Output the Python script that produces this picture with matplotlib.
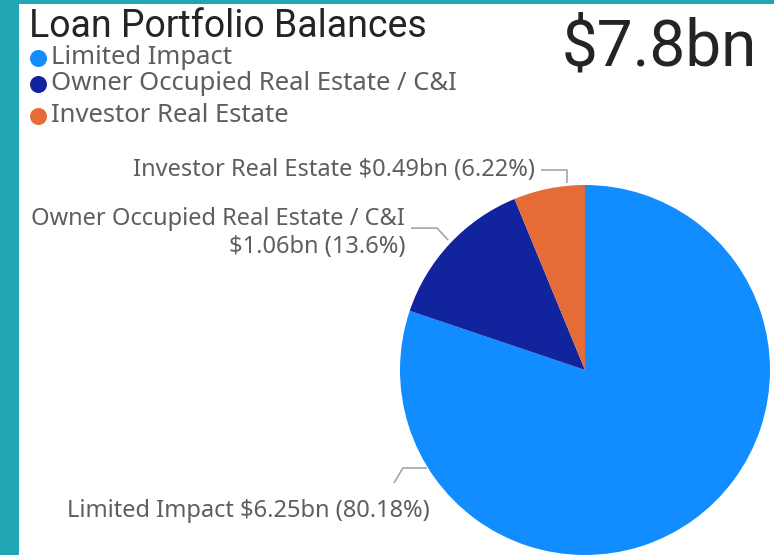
import numpy as np
import matplotlib.pyplot as plt
from matplotlib.patches import Rectangle

# data
categories = ['Limited Impact', 'Owner Occupied Real Estate / C&I', 'Investor Real Estate']
balances_bn = [6.25, 1.06, 0.49]
shares_pct = [80.18, 13.60, 6.22]
colors = ['#118DFF', '#12239E', '#E66C37']
title = 'Loan Portfolio Balances'

W, H = 774, 555
fig = plt.figure(figsize=(W / 100, H / 100), dpi=100)
fig.patch.set_facecolor('white')

# pie geometry in pixels
cx, cy, R = 585, 370, 185
pie_ax = fig.add_axes([(cx - R) / W, (H - cy - R) / H, 2 * R / W, 2 * R / H])
pie_ax.pie(shares_pct, colors=colors, startangle=90, counterclock=False,
           radius=1, wedgeprops=dict(linewidth=0))
pie_ax.set_xlim(-1, 1)
pie_ax.set_ylim(-1, 1)
pie_ax.axis('off')

# overlay in pixel coordinates
ov = fig.add_axes([0, 0, 1, 1])
ov.set_xlim(0, W)
ov.set_ylim(H, 0)
ov.axis('off')
ov.patch.set_visible(False)

teal = '#21A6B5'
ov.add_patch(Rectangle((0, 0), 19, H, color=teal, lw=0))
ov.add_patch(Rectangle((0, 0), W, 3.5, color=teal, lw=0))

label_font = 'Noto Sans'
grey = '#605E5C'

ov.text(29, 37, title, fontsize=27, family='Roboto', color='#252423', va='baseline')
total = sum(balances_bn)
ov.text(757, 66, f'${total:.1f}bn', fontsize=46, family='Roboto', color='#252423',
        va='baseline', ha='right')

# legend
leg_y = [58, 84, 116]
for name, col, y in zip(categories, colors, leg_y):
    ov.scatter([38], [y], s=150, color=col, lw=0)
    ov.text(51, y, name, fontsize=18.5, family=label_font, color=grey, va='center')

# data labels with leader lines
anchor_deg = [211.8, 136.5, 95.5]
anchor_r = [1.005, 1.02, 1.015]
leader = [[(0, 0), (-24, 0), (-33, 15)],
          [(0, 0), (-11, -12), (-37, -12)],
          [(0, 0), (0, -13), (-26, -13)]]
text_off = [(3, 43), (-43, -7), (-32, -13)]
for i, name in enumerate(categories):
    t = np.deg2rad(anchor_deg[i])
    ax0 = cx + R * anchor_r[i] * np.cos(t)
    ay0 = cy - R * anchor_r[i] * np.sin(t)
    xs = [ax0 + dx for dx, dy in leader[i]]
    ys = [ay0 + dy for dx, dy in leader[i]]
    ov.plot(xs, ys, color='#A6A6A6', lw=1.2, solid_capstyle='butt')
    value = f'${balances_bn[i]:.2f}bn ({shares_pct[i]:g}%)'
    sep = '\n' if i == 1 else ' '
    ov.text(ax0 + text_off[i][0], ay0 + text_off[i][1], name + sep + value,
            fontsize=17, family=label_font, color=grey, ha='right', va='center',
            multialignment='right', linespacing=1.2)

fig.savefig('out.png', dpi=100)
